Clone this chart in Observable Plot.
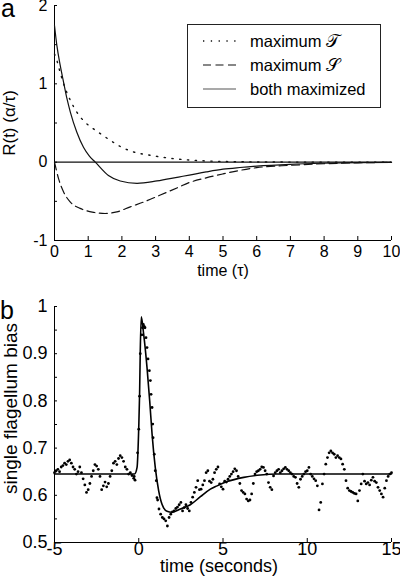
<!DOCTYPE html>
<html><head><meta charset="utf-8">
<script src="https://cdn.jsdelivr.net/npm/d3@7"></script>
<script src="https://cdn.jsdelivr.net/npm/@observablehq/plot@0.6"></script>
<style>
body{margin:0;background:#fff;font-family:"Liberation Sans",Arial,sans-serif;color:#000;}
#wrap{position:relative;width:400px;height:577px;overflow:hidden;}
#wrap svg{display:block;overflow:visible;}
.letter{position:absolute;font-size:25px;line-height:17px;}
#legend{position:absolute;left:187px;top:24px;width:194px;height:84px;border:1px solid #222;box-sizing:border-box;background:#fff;}
.row{position:absolute;left:0;height:20px;font-size:16.5px;line-height:20px;white-space:nowrap;}
.row svg{position:absolute;left:14px;top:0;}
.row span{position:absolute;left:62px;top:0;}
.scr{font-family:"DejaVu Sans","Noto Sans",serif;font-size:18px;}
</style></head>
<body><div id="wrap"></div>
<script>
// ---------- Panel a data ----------
const tauSolid = [0, 0.07, 0.17, 0.27, 0.37, 0.47, 0.66, 0.86, 1.03, 1.21, 1.6, 1.95, 2.45, 3.04, 3.68, 4.0, 4.5, 5, 5.5, 6, 7, 8, 9, 10];
const rSolid   = [1.745, 1.49, 1.235, 1.02, 0.81, 0.64, 0.385, 0.19, 0.08, 0.0, -0.17, -0.24, -0.27, -0.24, -0.19, -0.165, -0.125, -0.09, -0.068, -0.05, -0.027, -0.014, -0.006, -0.002];
const tauDotted = [0, 0.07, 0.12, 0.22, 0.32, 0.47, 0.66, 0.86, 1.11, 1.36, 1.65, 1.95, 2.35, 2.84, 3.34, 3.68, 4.2, 5, 6, 7, 8, 10];
const rDotted   = [1.38, 1.30, 1.22, 1.07, 0.94, 0.79, 0.64, 0.53, 0.44, 0.364, 0.28, 0.20, 0.13, 0.088, 0.055, 0.038, 0.022, 0.009, 0.003, 0.001, 0, 0];
const tauDashed = [0, 0.12, 0.27, 0.47, 0.76, 1.16, 1.5, 1.85, 2.25, 2.64, 3.14, 3.68, 4.0, 4.5, 5, 5.5, 6, 7, 8, 9, 10];
const rDashed   = [0, -0.21, -0.38, -0.51, -0.59, -0.64, -0.655, -0.635, -0.57, -0.51, -0.42, -0.32, -0.26, -0.2, -0.15, -0.105, -0.07, -0.04, -0.02, -0.008, -0.003];
const xTicksA = [0,1,2,3,4,5,6,7,8,9,10];
const yTicksA = [-1,0,1,2];
const yMinorTicksA = [-1,-0.5,0,0.5,1,1.5,2];
const legendLabels = ["maximum ", "maximum ", "both maximized"];
const legendSymbols = ["\u{1D4AF}", "\u{1D4AE}", ""];

// ---------- Panel b data ----------
const beforeStart = -5.0, sampleStep = 0.1;
const biasBefore = [
  0.648,0.652,0.655,0.650,0.660,0.663,0.668,0.665,0.672,0.675,
  0.668,0.660,0.655,0.645,0.650,0.660,0.648,0.635,0.622,0.606,
  0.612,0.625,0.640,0.652,0.665,0.662,0.655,0.640,0.612,0.620,
  0.628,0.618,0.625,0.640,0.652,0.668,0.672,0.665,0.678,0.684,
  0.680,0.672,0.660,0.655,0.645,0.648,0.642,0.636];
const spikeTimes  = [-0.27,-0.22,-0.07,0.0,0.05,0.09,0.19,0.22,0.27,0.32,0.37,0.43,0.49,0.55,0.63,0.69,0.73,0.79,0.83,0.85,0.92,0.98,1.04,1.08,1.12];
const spikeValues = [0.640,0.632,0.690,0.740,0.810,0.900,0.940,0.955,0.962,0.958,0.955,0.934,0.913,0.889,0.864,0.843,0.814,0.786,0.751,0.722,0.687,0.652,0.631,0.595,0.590];
const afterStart = 1.2;
const biasAfter = [
  0.571,0.560,0.553,0.550,0.546,0.535,0.553,0.560,0.565,0.567,
  0.572,0.575,0.580,0.585,0.567,0.574,0.580,0.572,0.567,0.585,
  0.596,0.606,0.617,0.631,0.612,0.613,0.622,0.631,0.648,0.652,
  0.630,0.627,0.634,0.648,0.655,0.660,0.624,0.618,0.613,0.630,
  0.628,0.634,0.640,0.645,0.650,0.656,0.652,0.640,0.625,0.610,
  0.606,0.603,0.592,0.588,0.590,0.603,0.625,0.645,0.650,0.652,
  0.655,0.660,0.659,0.652,0.645,0.627,0.617,0.612,0.641,0.648,
  0.652,0.655,0.648,0.652,0.656,0.659,0.655,0.652,0.648,0.645,
  0.640,0.638,0.625,0.617,0.634,0.640,0.645,0.650,0.652,0.659,
  0.645,0.640,0.635,0.631,0.620,0.569,0.585,0.624,0.645,0.666,
  0.680,0.690,0.694,0.690,0.687,0.680,0.684,0.680,0.677,0.666,
  0.655,0.631,0.615,0.610,0.608,0.606,0.604,0.603,0.588,0.610,
  0.624,0.645,0.630,0.624,0.627,0.622,0.632,0.638,0.630,0.627,
  0.617,0.610,0.603,0.596,0.615,0.631,0.640,0.645,0.648];
const fitTimes  = [-5,-0.25,-0.1,0.0,0.05,0.09,0.15,0.29,0.49,0.65,0.79,0.98,1.18,1.38,1.68,1.97,2.47,3.06,3.66,4.25,4.65,5.24,6.23,7.22,8.2,15];
const fitValues = [0.645,0.645,0.659,0.744,0.814,0.906,0.978,0.942,0.871,0.800,0.730,0.659,0.610,0.581,0.566,0.564,0.571,0.580,0.597,0.613,0.620,0.629,0.638,0.643,0.645,0.645];
const xTicksB = [-5,0,5,10,15];
const yTicksB = [0.5,0.6,0.7,0.8,0.9,1];
const yMinorTicksB = [0.5,0.55,0.6,0.65,0.7,0.75,0.8,0.85,0.9,0.95,1];

// ---------- build tables ----------
const zip = (xs, ys) => xs.map((t, i) => ({t, v: ys[i]}));
const solid = zip(tauSolid, rSolid), dotted = zip(tauDotted, rDotted), dashed = zip(tauDashed, rDashed);
const dots = [
  ...biasBefore.map((v, i) => ({t: beforeStart + i * sampleStep, v})),
  ...zip(spikeTimes, spikeValues),
  ...biasAfter.map((v, i) => ({t: afterStart + i * sampleStep, v}))
];
const fit = zip(fitTimes, fitValues);
const FONT = "Liberation Sans, Arial, sans-serif";
const str = d => String(d);

const chartA = Plot.plot({
  width: 400, height: 290,
  marginTop: 5, marginBottom: 50, marginLeft: 54, marginRight: 9,
  x: {domain: [0, 10]}, y: {domain: [-1, 2]},
  style: {fontFamily: FONT, fontSize: "16px", color: "#000", background: "transparent", overflow: "visible"},
  marks: [
    Plot.ruleX([0], {stroke: "#000"}),
    Plot.ruleY([-1], {stroke: "#000"}),
    Plot.ruleY([0], {stroke: "#111", strokeWidth: 1.2}),
    Plot.axisY(yMinorTicksA, {tickSize: 3, dx: 3, tickFormat: () => "", label: null}),
    Plot.axisY(yTicksA, {tickSize: 0, tickPadding: 7, tickFormat: str, label: null}),
    Plot.axisX(xTicksA, {tickSize: 4, dy: -4, tickFormat: () => "", label: null}),
    Plot.axisX(xTicksA, {tickSize: 0, tickPadding: 5, tickFormat: str, label: null}),
    Plot.line(dotted, {x: "t", y: "v", curve: "monotone-x", stroke: "#111", strokeWidth: 1.4, strokeDasharray: "1.3,6.5"}),
    Plot.line(dashed, {x: "t", y: "v", curve: "monotone-x", stroke: "#111", strokeWidth: 1.2, strokeDasharray: "8,4.5"}),
    Plot.line(solid, {x: "t", y: "v", curve: "monotone-x", stroke: "#111", strokeWidth: 1.2}),
    Plot.text(["time (τ)"], {text: d => d, frameAnchor: "bottom", dy: 35, lineAnchor: "bottom", fontSize: 16}),
    Plot.text(["R(t) (α/τ)"], {text: d => d, frameAnchor: "left", textAnchor: "middle", rotate: -90, dx: -40, lineAnchor: "bottom", fontSize: 17})
  ]
});

const chartB = Plot.plot({
  width: 400, height: 287,
  marginTop: 16, marginBottom: 35, marginLeft: 54, marginRight: 9,
  x: {domain: [-5, 15]}, y: {domain: [0.5, 1]},
  style: {fontFamily: FONT, fontSize: "18px", color: "#000", background: "transparent", overflow: "visible"},
  marks: [
    Plot.ruleX([-5], {stroke: "#000"}),
    Plot.ruleY([0.5], {stroke: "#000"}),
    Plot.axisY(yMinorTicksB, {tickSize: 3, dx: 3, tickFormat: () => "", label: null}),
    Plot.axisY(yTicksB, {tickSize: 0, tickPadding: 7, tickFormat: str, label: null}),
    Plot.axisX(xTicksB, {tickSize: 4, dy: -4, tickFormat: () => "", label: null}),
    Plot.axisX(xTicksB, {tickSize: 0, tickPadding: 0, tickFormat: str, label: null}),
    Plot.line(fit, {x: "t", y: "v", curve: "monotone-x", stroke: "#000", strokeWidth: 1.6}),
    Plot.dot(dots, {x: "t", y: "v", r: 1.4, fill: "#000", stroke: null}),
    Plot.text(["time (seconds)"], {text: d => d, frameAnchor: "bottom", dx: -4, dy: 29, lineAnchor: "bottom", fontSize: 18}),
    Plot.text(["single flagellum bias"], {text: d => d, frameAnchor: "left", textAnchor: "middle", rotate: -90, dx: -38, dy: -16, lineAnchor: "bottom", fontSize: 19})
  ]
});

const wrap = document.getElementById("wrap");
wrap.appendChild(chartA);
wrap.appendChild(chartB);

// panel letters
const la = document.createElement("div"); la.className = "letter"; la.style.left = "1px"; la.style.top = "0px"; la.textContent = "a"; wrap.appendChild(la);
const lb = document.createElement("div"); lb.className = "letter"; lb.style.left = "0px"; lb.style.top = "302px"; lb.textContent = "b"; wrap.appendChild(lb);

// legend
const legend = document.createElement("div"); legend.id = "legend";
const dashes = ["1.3,6.5", "8,4.5", null];
const rowTops = [6, 29.5, 54];
legendLabels.forEach((lab, i) => {
  const row = document.createElement("div"); row.className = "row"; row.style.top = rowTops[i] + "px"; row.style.width = "190px";
  const s = d3.create("svg").attr("width", 36).attr("height", 20);
  s.append("line").attr("x1", 1).attr("x2", 34).attr("y1", 10).attr("y2", 10)
    .attr("stroke", i === 2 ? "#555" : "#111").attr("stroke-width", i === 0 ? 1.4 : 1.2)
    .attr("stroke-dasharray", dashes[i]);
  row.appendChild(s.node());
  const sp = document.createElement("span");
  sp.textContent = lab;
  if (legendSymbols[i]) { const sy = document.createElement("span"); sy.className = "scr"; sy.style.position = "static"; sy.textContent = legendSymbols[i]; sp.appendChild(sy); }
  row.appendChild(sp);
  legend.appendChild(row);
});
wrap.appendChild(legend);
</script>
</body></html>
